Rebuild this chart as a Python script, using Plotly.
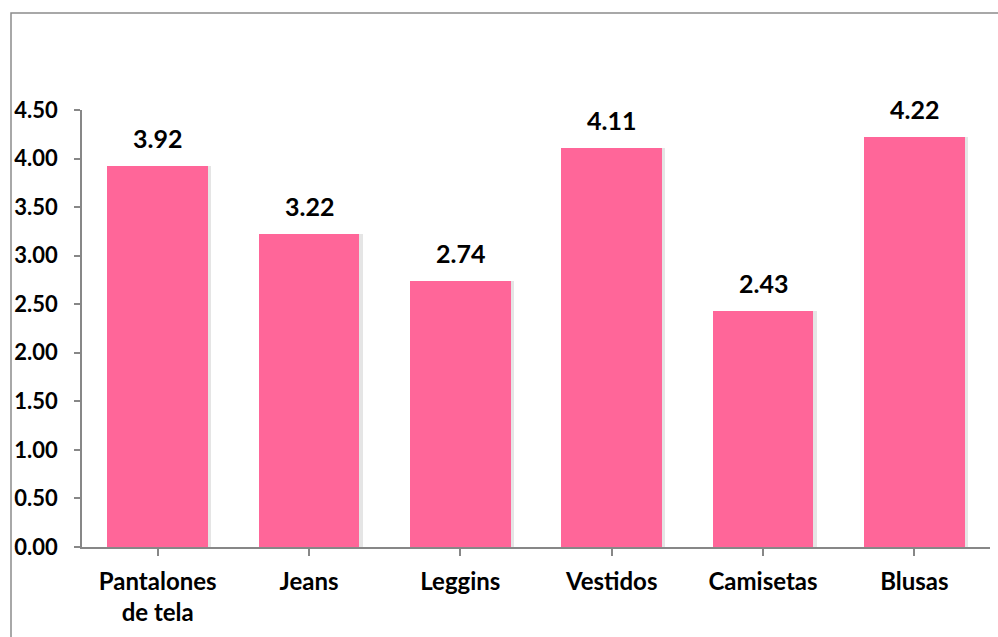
import plotly.graph_objects as go

categories = ["Pantalones<br>de tela", "Jeans", "Leggins", "Vestidos", "Camisetas", "Blusas"]
values = [3.92, 3.22, 2.74, 4.11, 2.43, 4.22]
y_ticks = [0, 0.5, 1.0, 1.5, 2.0, 2.5, 3.0, 3.5, 4.0, 4.5]

FONT = "Lato, Carlito, Calibri, sans-serif"
PINK = "#FF6699"
AXIS = "#878787"

W, H = 998, 637
L, R, T, B = 82, 8, 110, 90
pw, ph = W - L - R, H - T - B

xs = list(range(len(categories)))

fig = go.Figure()
# soft drop shadow behind each bar
fig.add_trace(go.Bar(
    x=xs, y=values, width=0.667, offset=-0.333 + 0.02,
    marker=dict(color="rgba(0,0,0,0.10)", line=dict(width=0)),
    hoverinfo="skip", showlegend=False,
))
fig.add_trace(go.Bar(
    x=xs, y=values, width=0.667, offset=-0.3335,
    marker=dict(color=PINK, line=dict(width=0)),
    showlegend=False,
))

for x, v in zip(xs, values):
    fig.add_annotation(
        x=x, y=v, text=f"{v:.2f}", showarrow=False,
        xanchor="center", yanchor="bottom", yshift=11,
        font=dict(family=FONT, size=25, color="black", weight="bold"),
    )

# outer chart border
fig.add_shape(
    type="rect", xref="paper", yref="paper",
    x0=(11 - L) / pw, x1=(1005 - L) / pw,
    y0=(H - B - 645) / ph, y1=(H - B - 13) / ph,
    line=dict(color="#8c8c8c", width=1.5), fillcolor="rgba(0,0,0,0)",
    layer="above",
)

fig.update_layout(
    width=W, height=H,
    margin=dict(l=L, r=R, t=T, b=B),
    paper_bgcolor="white", plot_bgcolor="white",
    barmode="overlay", bargap=0,
    font=dict(family=FONT, size=22, color="black"),
    xaxis=dict(
        tickmode="array", tickvals=xs,
        ticktext=[f"<b>{c}</b>" for c in categories],
        range=[-0.5, len(categories) - 0.5],
        showline=True, linecolor=AXIS, linewidth=1.5,
        ticks="outside", tickson="boundaries", ticklen=7, tickcolor=AXIS, tickwidth=1.5,
        showgrid=False, zeroline=False,
        tickfont=dict(family=FONT, size=24, color="black"),
        ticklabelstandoff=5,
    ),
    yaxis=dict(
        range=[0, 4.5], tickmode="array", tickvals=y_ticks,
        ticktext=[f"<b>{t:.2f}</b>" for t in y_ticks],
        showline=True, linecolor=AXIS, linewidth=1.5,
        ticks="outside", ticklen=6, tickcolor=AXIS, tickwidth=1.5,
        showgrid=False, zeroline=False,
        tickfont=dict(family=FONT, size=22, color="black"),
        ticklabelstandoff=12,
    ),
)

fig.write_html("out.html")
